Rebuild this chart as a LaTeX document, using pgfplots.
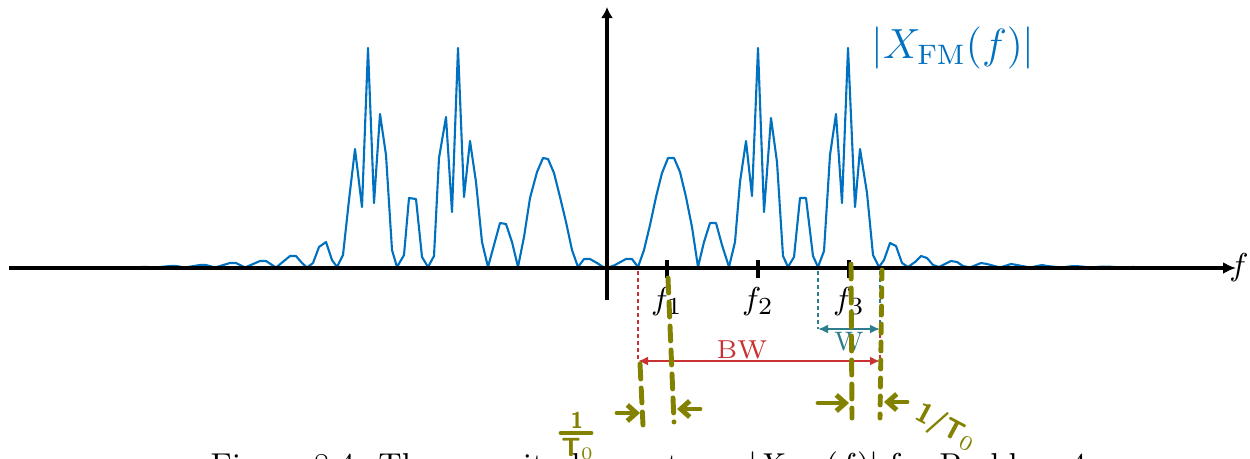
\documentclass[border=0pt]{standalone}
\usepackage{pgfplots}
\pgfplotsset{compat=1.18}
\usetikzlibrary{arrows.meta}
\definecolor{specblue}{RGB}{0,112,192}
\definecolor{bwred}{RGB}{200,50,50}
\definecolor{wteal}{RGB}{45,125,140}
\definecolor{hand}{RGB}{130,130,0}
\pgfplotstableread{
x y
137 267.5
145 266.8
155 267.5
170 266
176 266
185 267.5
200 265
206 265
215 267.5
230 263
236 263
245 267.5
260 261
266 261
276 267.5
290 256
296 256
302 263
307 267.5
313 263
319 247
326 242
332 260
337 267
343 255
349 200
355 149
362 207
368 48
374 203
380 114
386 155
392 250
397 267
404 255
409 198
416 199
422 257
428 267
434 256
439 158
446 117
452 212
458 48
464 197
470 141
476 182
482 242
488 267
494 245
500 223
506 224
512 242
518 267
524 237
530 198
537 172
543 158
548 159
554 173
560 197
566 222
572 250
578 267
584 259
590 259
597 263
603 267
610 267
615 265
626 259
632 259
638 267
644 250
650 225
656 197
662 173
668 158
674 158
680 172
686 197
692 227
698 267
704 242
710 223
716 223
722 245
729 267
735 242
740 182
746 141
752 196
758 48
764 212
771 118
777 162
783 256
788 267
794 257
800 198
806 198
813 256
818 267
824 251
830 155
836 114
842 203
848 48
855 207
860 149
867 193
873 255
879 267
884 260
890 243
896 246
902 263
908 267
915 262
921 256
927 258
933 265
939 267
945 264
951 261
957 262
963 266
970 267.5
981 263
987 264
1000 267.5
1011 264
1017 265
1030 267.5
1042 265
1047 266
1061 267.5
1072 266.2
1078 266.2
1091 267.5
1102 266.6
1108 266.6
1122 267.5
1133 267
1152 267.5
1163 267.2
1183 267.5
1213 267.5
}\spectrum
\begin{document}
\begin{tikzpicture}
\clip (0,0) rectangle (12.5cm,4.58cm);
\begin{axis}[
  scale only axis, width=12.5cm, height=4.58cm,
  xmin=0, xmax=1250, ymin=0, ymax=458, y dir=reverse,
  hide axis, clip=false, at={(0,0)}, anchor=south west]
\addplot[specblue, line width=0.6pt, line join=round, no marks] table[x=x,y=y] {\spectrum};
% axes
\draw[line width=0.9pt, -{Latex[length=1.3mm,width=1.2mm]}] (9,268) -- (1236,268);
\draw[line width=0.9pt, -{Latex[length=1.1mm,width=1.2mm]}] (607,300) -- (607,7);
\node at (1239,268) {\fontsize{9.3}{11}\selectfont $f$};
% ticks
\draw[line width=0.9pt] (667,260) -- (667,278);
\draw[line width=0.9pt] (758,260) -- (758,278);
\draw[line width=0.9pt] (849,260) -- (849,278);
\node at (667,302) {\fontsize{9.3}{11}\selectfont $f_1$};
\node at (758,302) {\fontsize{9.3}{11}\selectfont $f_2$};
\node at (849,302) {\fontsize{9.3}{11}\selectfont $f_3$};
% label
\node[specblue] at (953,48) {\fontsize{11.8}{14}\selectfont $|X_{\mathrm{FM}}(f)|$};
% dashed guides
\draw[bwred, line width=0.4pt, dash pattern=on 0.4mm off 0.3mm] (638,271) -- (638,361);
\draw[bwred, line width=0.4pt, dash pattern=on 0.4mm off 0.3mm] (880,271) -- (880,361);
\draw[wteal, line width=0.4pt, dash pattern=on 0.4mm off 0.3mm] (818,271) -- (818,329);
\draw[wteal, line width=0.4pt, dash pattern=on 0.4mm off 0.3mm] (880,271) -- (880,329);
% W and BW arrows
\draw[wteal, line width=0.6pt, {Latex[length=1mm,width=0.9mm]}-{Latex[length=1mm,width=0.9mm]}] (818,329) -- (880,329);
\node[wteal, anchor=base] at (849,350) {\fontsize{7.6}{9}\selectfont W};
\draw[bwred, line width=0.6pt, {Latex[length=1mm,width=0.9mm]}-{Latex[length=1mm,width=0.9mm]}] (638,361) -- (880,361);
\node[bwred, anchor=base] at (742,358) {\fontsize{7.4}{9}\selectfont BW};
% caption (cut)
\node[anchor=base west, inner sep=0pt] at (210,475) {\fontsize{9}{11}\selectfont Figure 8.4: The magnitude spectrum $|X_{\mathrm{FM}}(f)|$ for Problem 4};
% handwritten annotations
\begin{scope}[hand, line width=1.4pt, line cap=round]
\draw[dash pattern=on 1.5mm off 0.9mm] (668,278) -- (674,422);
\draw[dash pattern=on 1.5mm off 0.9mm] (851,264) -- (852,418);
\draw[dash pattern=on 0.9mm off 0.9mm] (882,270) -- (880,418);
\draw[dash pattern=on 1.5mm off 0.9mm] (640,364) -- (643,425);
\draw[-{Straight Barb[length=0.9mm,width=1.6mm]}] (617,413) -- (640,413);
\draw[-{Straight Barb[length=0.9mm,width=1.6mm]}] (700,409) -- (677,409);
\draw[-{Straight Barb[length=0.9mm,width=1.6mm]}] (818,403) -- (849,403);
\draw[-{Straight Barb[length=0.9mm,width=1.6mm]}] (907,402) -- (884,402);
\draw (561,433) -- (591,433);
\node at (577,420) {\fontsize{6.5}{7}\sffamily\bfseries 1};
\node at (578,449) {\fontsize{7.5}{8}\sffamily\bfseries T$_0$};
\node[rotate=-28] at (946,428) {\fontsize{8}{9}\sffamily\bfseries 1/T$_0$};
\end{scope}
\end{axis}
\end{tikzpicture}
\end{document}
